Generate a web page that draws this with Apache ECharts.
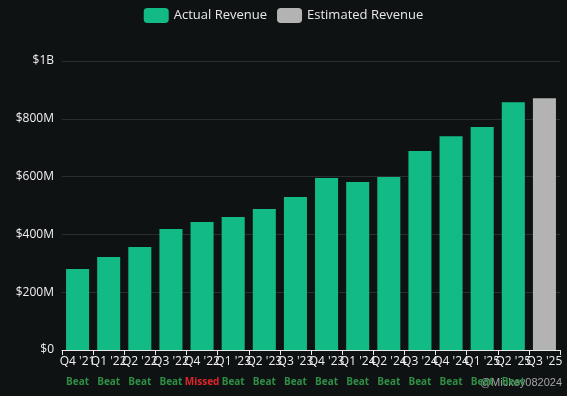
<!DOCTYPE html>
<html>
<head>
<meta charset="utf-8">
<script src="https://cdn.jsdelivr.net/npm/echarts@6/dist/echarts.min.js"></script>
<style>
  html, body { margin: 0; padding: 0; background: #0f1213; }
  #chart { width: 567px; height: 396px; }
</style>
</head>
<body>
<div id="chart"></div>
<script>
// quarters and results
var quarters = ["Q4 '21", "Q1 '22", "Q2 '22", "Q3 '22", "Q4 '22", "Q1 '23", "Q2 '23", "Q3 '23",
  "Q4 '23", "Q1 '24", "Q2 '24", "Q3 '24", "Q4 '24", "Q1 '25", "Q2 '25", "Q3 '25"]
var results = ['Beat', 'Beat', 'Beat', 'Beat', 'Missed', 'Beat', 'Beat', 'Beat',
  'Beat', 'Beat', 'Beat', 'Beat', 'Beat', 'Beat', 'Beat', '']
// revenue in $M
var actualRevenue = [280, 322, 356, 419, 443, 460, 488, 529, 595, 581, 599, 689, 740, 772, 857, null]
var estimatedRevenue = [null, null, null, null, null, null, null, null, null, null, null, null, null, null, null, 871]

var myChart = echarts.init(document.getElementById('chart'))
myChart.setOption({
  backgroundColor: '#0f1213',
  animation: false,
  textStyle: { fontFamily: 'Open Sans, sans-serif' },
  legend: {
    top: 3,
    left: 'center',
    itemWidth: 25,
    itemHeight: 15,
    itemGap: 10,
    icon: 'roundRect',
    textStyle: { color: '#e8e8e8', fontSize: 13 },
    data: ['Actual Revenue', 'Estimated Revenue']
  },
  grid: { left: 62, right: 7, top: 61, bottom: 46, outerBoundsMode: 'none', containLabel: false },
  xAxis: {
    type: 'category',
    data: quarters,
    axisLine: { lineStyle: { color: '#e8e8e8' } },
    axisTick: { show: true, lineStyle: { color: '#e8e8e8' } },
    axisLabel: {
      interval: 0,
      margin: 2,
      color: '#f0f0f0',
      fontSize: 12,
      lineHeight: 20,
      formatter: function (v, i) {
        var r = results[i]
        if (!r) return v
        return v + '\n{' + (r === 'Missed' ? 'miss' : 'beat') + '|' + r + '}'
      },
      rich: {
        beat: { color: '#2f8f45', fontSize: 10, fontWeight: 'bold' },
        miss: { color: '#e0262b', fontSize: 10, fontWeight: 'bold' }
      }
    }
  },
  yAxis: {
    type: 'value',
    min: 0,
    max: 1000,
    interval: 200,
    axisLine: { show: false },
    axisTick: { show: false },
    splitLine: { lineStyle: { color: '#2a2e30' } },
    axisLabel: {
      color: '#f0f0f0',
      fontSize: 12,
      margin: 8,
      formatter: function (v) {
        if (v === 0) return '$0'
        if (v >= 1000) return '$' + (v / 1000) + 'B'
        return '$' + v + 'M'
      }
    }
  },
  series: [
    {
      name: 'Actual Revenue',
      type: 'bar',
      stack: 'rev',
      barWidth: '74%',
      itemStyle: { color: '#12bb85' },
      data: actualRevenue
    },
    {
      name: 'Estimated Revenue',
      type: 'bar',
      stack: 'rev',
      barWidth: '74%',
      itemStyle: { color: '#b3b3b3' },
      data: estimatedRevenue
    }
  ],
  graphic: [
    {
      type: 'text',
      right: 5,
      bottom: 8,
      style: { text: '@Mickey082024', fill: 'rgba(190,190,190,0.85)', fontSize: 11 }
    }
  ]
})
</script>
</body>
</html>
